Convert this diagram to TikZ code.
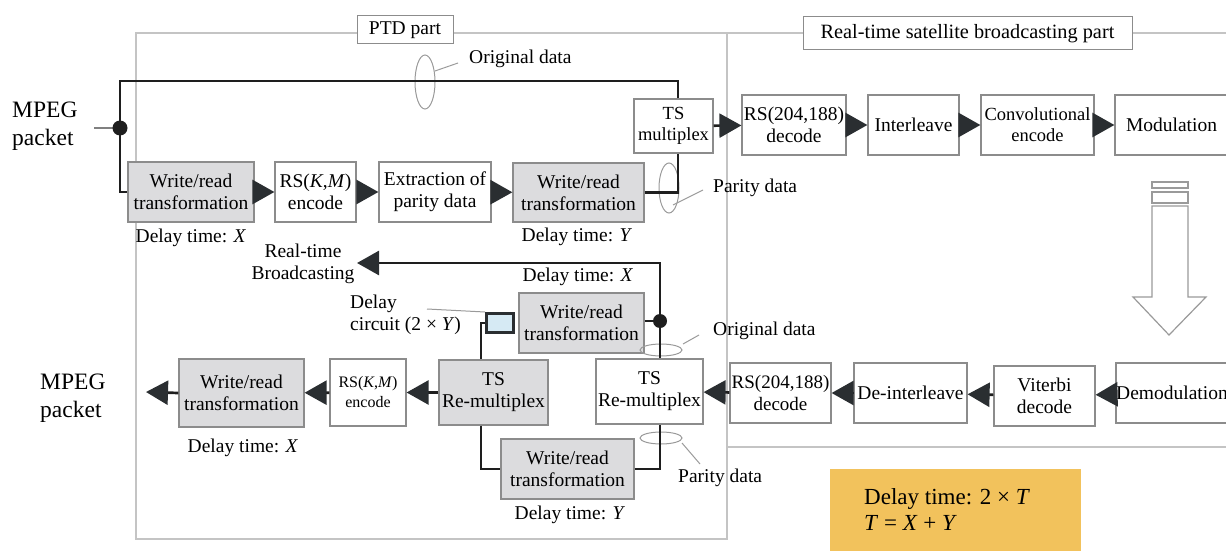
\documentclass[tikz,border=0pt]{standalone}
\usepackage{fontspec}
\setmainfont{Liberation Serif}
\usetikzlibrary{arrows.meta}
\definecolor{boxline}{HTML}{8C8C8C}
\definecolor{boxgray}{HTML}{DCDCDE}
\definecolor{wirec}{HTML}{1E1E1E}
\definecolor{tipc}{HTML}{2A2E31}
\definecolor{regionc}{HTML}{C4C4C4}
\definecolor{leaderc}{HTML}{9A9A9A}
\definecolor{ybox}{HTML}{F2C25C}
\definecolor{dlyfill}{HTML}{D6EAF4}
\newcommand{\mainfs}{\fontsize{19.5}{22}\selectfont}
\begin{document}
\begin{tikzpicture}[x=1pt,y=-1pt,
  box/.style={draw=boxline, line width=1.2pt, fill=white, inner sep=0pt, align=center, font=\mainfs},
  gbox/.style={box, fill=boxgray},
  lbl/.style={inner sep=0pt, align=center, font=\mainfs},
  wire/.style={draw=wirec, line width=2.7pt},
  arr/.style={draw=wirec, line width=2.7pt, -{Triangle[length=22pt,width=24pt,color=tipc]}},
  leader/.style={draw=leaderc, line width=1pt},
  region/.style={draw=regionc, line width=1.1pt},
  tagbox/.style={draw=boxline, line width=1pt, fill=white, inner sep=0pt, font=\mainfs}
]
\useasboundingbox (0,0) rectangle (1226,551);

% regions
\draw[region] (136,33) rectangle (727,539);
\draw[region] (727,33) -- (1230,33);
\draw[region] (727,447) -- (1230,447);
\node[tagbox, minimum width=96pt, minimum height=28pt] (ptd) at (405,30) {PTD part};
\node[tagbox, minimum width=329pt, minimum height=33pt, font=\fontsize{20.3}{22}\selectfont] (rts) at (967.5,33.5) {Real-time satellite broadcasting part};

% top row
\node[gbox, minimum width=126pt, minimum height=60pt] (wr1) at (191,192) {Write/read\\transformation};
\node[box, minimum width=81pt, minimum height=60pt] (rs1) at (315.5,192) {RS(\textit{K},\textit{M})\\encode};
\node[box, minimum width=112pt, minimum height=60pt] (ext) at (435,192) {Extraction of\\parity data};
\node[gbox, minimum width=131pt, minimum height=59pt] (wr2) at (578.5,192.5) {Write/read\\transformation};
\node[box, minimum width=79pt, minimum height=54pt, font=\fontsize{18.5}{21}\selectfont] (tsm) at (673.5,126) {TS\\multiplex};
\node[box, minimum width=104pt, minimum height=60pt] (rsd1) at (794,125) {RS(204,188)\\decode};
\node[box, minimum width=91pt, minimum height=60pt] (intl) at (913.5,125) {Interleave};
\node[box, minimum width=113pt, minimum height=60pt, font=\fontsize{18.5}{21}\selectfont] (conv) at (1037.5,125) {Convolutional\\encode};
\node[box, minimum width=113pt, minimum height=60pt] (mod) at (1171.5,125) {Modulation};

% middle / bottom
\node[gbox, minimum width=125pt, minimum height=60pt] (wrm) at (581.5,323) {Write/read\\transformation};
\node[draw=tipc, line width=3pt, fill=dlyfill, minimum width=27pt, minimum height=19pt, inner sep=0pt] (dly) at (500,323) {};
\node[gbox, minimum width=109pt, minimum height=65pt] (tsL) at (493.5,392.5) {TS\\Re-multiplex};
\node[box, minimum width=107pt, minimum height=65pt] (tsR) at (649.5,391.5) {TS\\Re-multiplex};
\node[gbox, minimum width=133pt, minimum height=60pt] (wrl) at (567.5,469) {Write/read\\transformation};
\node[box, minimum width=101pt, minimum height=60pt, font=\fontsize{19}{22}\selectfont] (rsd2) at (780.5,393) {RS(204,188)\\decode};
\node[box, minimum width=113pt, minimum height=60pt] (dint) at (910.5,393) {De-interleave};
\node[box, minimum width=101pt, minimum height=60pt] (vit) at (1044.5,396) {Viterbi\\decode};
\node[box, minimum width=112pt, minimum height=60pt] (demod) at (1172,393) {Demodulation};
\node[box, minimum width=76pt, minimum height=67pt, font=\fontsize{16}{20}\selectfont] (rs2) at (368,392.5) {RS(\textit{K},\textit{M})\\encode};
\node[gbox, minimum width=125pt, minimum height=68pt] (wr3) at (241.5,393) {Write/read\\transformation};

% labels
\node[lbl, anchor=west, align=left, font=\fontsize{23.5}{28}\selectfont] (mpeg1) at (12,126) {MPEG\\packet};
\node[lbl, anchor=west, align=left, font=\fontsize{23.5}{28}\selectfont] (mpeg2) at (40,398) {MPEG\\packet};
\node[lbl] (dx1) at (191,238) {Delay time: \textit{X}};
\node[lbl] (dy1) at (577,237) {Delay time: \textit{Y}};
\node[lbl] (dx2) at (578,277) {Delay time: \textit{X}};
\node[lbl] (dy2) at (570,515) {Delay time: \textit{Y}};
\node[lbl] (dx3) at (243,448) {Delay time: \textit{X}};
\node[lbl] (rtbl) at (303,264) {Real-time\\Broadcasting};
\node[lbl, anchor=west, align=left] (dcl) at (350,315) {Delay\\circuit (2 × \textit{Y})};
\node[lbl, anchor=west] (od1) at (469,59) {Original data};
\node[lbl, anchor=west] (pd1) at (713,188) {Parity data};
\node[lbl, anchor=west] (od2) at (713,331) {Original data};
\node[lbl, anchor=west] (pd2) at (678,478) {Parity data};

% coordinates
\coordinate (in1) at (94,128);
\coordinate (j1) at (120,128);
\coordinate (jtop) at (120,81);
\coordinate (tsx) at (678,0);
\coordinate (jm) at (660,321);
\coordinate (rtb) at (357,263);
\coordinate (dl) at (481,0);
\coordinate (out) at (146,392);

% ellipses and leaders
\draw[leader] (425,82) ellipse [x radius=10pt, y radius=27pt];
\draw[leader] (435,71) -- (458,63);
\draw[leader] (669,188) ellipse [x radius=10pt, y radius=25pt];
\draw[leader] (673,205) -- (703,190);
\draw[leader] (661,350) ellipse [x radius=21pt, y radius=6pt];
\draw[leader] (683,344) -- (699,335);
\draw[leader] (661,438) ellipse [x radius=21pt, y radius=6pt];
\draw[leader] (682,443) -- (700,464);
\draw[leader] (427,309) -- (dly.north west);

% wires top
\draw[draw=gray, line width=2.7pt] (in1) -- (j1);
\draw[wire] (tsm.north -| tsx) |- (jtop) |- (wr1.west);
\fill[wirec] (j1) circle (7.5pt);
\draw[wire] (wr2.east) -| (tsm.south -| tsx);
\draw[arr] (wr1) -- (rs1);
\draw[arr] (rs1) -- (ext);
\draw[arr] (ext) -- (wr2);
\draw[arr] (tsm) -- (rsd1);
\draw[arr] (rsd1) -- (intl);
\draw[arr] (intl) -- (conv);
\draw[arr] (conv) -- (mod);

% wires middle/bottom
\draw[arr] (tsR.north -| jm) |- (rtb);
\draw[wire] (wrm.east |- jm) -- (jm);
\fill[wirec] (jm) circle (7pt);
\draw[wire] (dly.west) -| (tsL.north -| dl);
\draw[wire] (tsL.south -| dl) |- (wrl.west);
\draw[wire] (wrl.east) -| (tsR.south -| jm);
\draw[arr] (rsd2) -- (tsR);
\draw[arr] (dint) -- (rsd2);
\draw[arr] (vit) -- (dint);
\draw[arr] (demod) -- (vit);
\draw[arr] (tsL) -- (rs2);
\draw[arr] (rs2) -- (wr3);
\draw[arr] (wr3.west) -- (out);

% big hollow arrow
\draw[draw=leaderc, line width=1.2pt, fill=white] (1152,182) rectangle (1188,188);
\draw[draw=leaderc, line width=1.2pt, fill=white] (1152,192) rectangle (1188,203);
\draw[draw=leaderc, line width=1.2pt, fill=white] (1152,206) -- (1152,297) -- (1133,297) -- (1169,335) -- (1206,297) -- (1188,297) -- (1188,206) -- cycle;

% yellow note
\fill[ybox] (830,469) rectangle (1081,555);
\node[lbl, anchor=west, align=left, font=\fontsize{23}{26}\selectfont] (note) at (864,510) {Delay time: 2 × \textit{T}\\\textit{T} = \textit{X} + \textit{Y}};
\end{tikzpicture}
\end{document}
